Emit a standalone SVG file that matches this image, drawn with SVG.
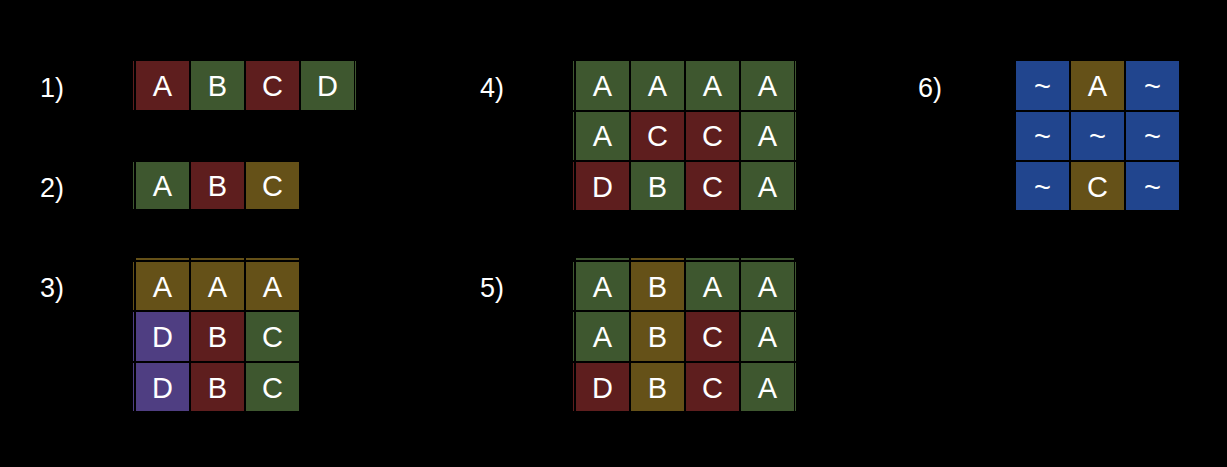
<svg xmlns="http://www.w3.org/2000/svg" width="1227" height="467" viewBox="0 0 1227 467">
<style>
.r{fill:#5e1e1e}.g{fill:#3e572f}.y{fill:#655118}.p{fill:#4f3e82}.b{fill:#21458e}
.t{font-family:"Liberation Sans",Arial,sans-serif;font-size:29px;fill:#ffffff;text-anchor:middle}
.l{font-family:"Liberation Sans",Arial,sans-serif;font-size:27px;fill:#ffffff}
</style>
<rect width="1227" height="467" fill="#000"/>
<g id="labels">
<text class="l" x="40" y="97">1)</text>
<text class="l" x="40" y="197">2)</text>
<text class="l" x="40" y="297">3)</text>
<text class="l" x="480" y="97">4)</text>
<text class="l" x="480" y="297">5)</text>
<text class="l" x="918" y="97">6)</text>
</g>
<g id="grid1">
<rect class="r" x="133" y="61" width="1" height="49"/>
<rect class="g" x="355" y="61" width="1" height="49"/>
<rect class="r" x="136" y="61" width="53" height="49"/><text class="t" x="162.5" y="96">A</text>
<rect class="g" x="191" y="61" width="53" height="49"/><text class="t" x="217.5" y="96">B</text>
<rect class="r" x="246" y="61" width="53" height="49"/><text class="t" x="272.5" y="96">C</text>
<rect class="g" x="301" y="61" width="53" height="49"/><text class="t" x="327.5" y="96">D</text>
</g>
<g id="grid2">
<rect class="g" x="133" y="162" width="1" height="47"/>
<rect class="g" x="136" y="162" width="53" height="47"/><text class="t" x="162.5" y="196">A</text>
<rect class="r" x="191" y="162" width="53" height="47"/><text class="t" x="217.5" y="196">B</text>
<rect class="y" x="246" y="162" width="53" height="47"/><text class="t" x="272.5" y="196">C</text>
</g>
<g id="grid3">
<rect class="y" x="136" y="258" width="53" height="2"/>
<rect class="y" x="191" y="258" width="53" height="2"/>
<rect class="y" x="246" y="258" width="53" height="2"/>
<rect class="y" x="133" y="262" width="1" height="48"/>
<rect class="p" x="133" y="312" width="1" height="49"/>
<rect class="p" x="133" y="363" width="1" height="48"/>
<rect class="y" x="136" y="262" width="53" height="48"/><text class="t" x="162.5" y="297">A</text>
<rect class="y" x="191" y="262" width="53" height="48"/><text class="t" x="217.5" y="297">A</text>
<rect class="y" x="246" y="262" width="53" height="48"/><text class="t" x="272.5" y="297">A</text>
<rect class="p" x="136" y="312" width="53" height="49"/><text class="t" x="162.5" y="347">D</text>
<rect class="r" x="191" y="312" width="53" height="49"/><text class="t" x="217.5" y="347">B</text>
<rect class="g" x="246" y="312" width="53" height="49"/><text class="t" x="272.5" y="347">C</text>
<rect class="p" x="136" y="363" width="53" height="48"/><text class="t" x="162.5" y="398">D</text>
<rect class="r" x="191" y="363" width="53" height="48"/><text class="t" x="217.5" y="398">B</text>
<rect class="g" x="246" y="363" width="53" height="48"/><text class="t" x="272.5" y="398">C</text>
</g>
<g id="grid4">
<rect class="g" x="573" y="61" width="1" height="49"/>
<rect class="g" x="573" y="112" width="1" height="48"/>
<rect class="r" x="573" y="162" width="1" height="48"/>
<rect class="g" x="795" y="61" width="1" height="49"/>
<rect class="g" x="795" y="112" width="1" height="48"/>
<rect class="g" x="795" y="162" width="1" height="48"/>
<rect class="g" x="576" y="61" width="53" height="49"/><text class="t" x="602.5" y="96">A</text>
<rect class="g" x="631" y="61" width="53" height="49"/><text class="t" x="657.5" y="96">A</text>
<rect class="g" x="686" y="61" width="53" height="49"/><text class="t" x="712.5" y="96">A</text>
<rect class="g" x="741" y="61" width="53" height="49"/><text class="t" x="767.5" y="96">A</text>
<rect class="g" x="576" y="112" width="53" height="48"/><text class="t" x="602.5" y="146">A</text>
<rect class="r" x="631" y="112" width="53" height="48"/><text class="t" x="657.5" y="146">C</text>
<rect class="r" x="686" y="112" width="53" height="48"/><text class="t" x="712.5" y="146">C</text>
<rect class="g" x="741" y="112" width="53" height="48"/><text class="t" x="767.5" y="146">A</text>
<rect class="r" x="576" y="162" width="53" height="48"/><text class="t" x="602.5" y="197">D</text>
<rect class="g" x="631" y="162" width="53" height="48"/><text class="t" x="657.5" y="197">B</text>
<rect class="r" x="686" y="162" width="53" height="48"/><text class="t" x="712.5" y="197">C</text>
<rect class="g" x="741" y="162" width="53" height="48"/><text class="t" x="767.5" y="197">A</text>
</g>
<g id="grid5">
<rect class="g" x="576" y="258" width="53" height="2"/>
<rect class="y" x="631" y="258" width="53" height="2"/>
<rect class="g" x="686" y="258" width="53" height="2"/>
<rect class="g" x="741" y="258" width="53" height="2"/>
<rect class="g" x="573" y="262" width="1" height="48"/>
<rect class="g" x="573" y="312" width="1" height="49"/>
<rect class="r" x="573" y="363" width="1" height="48"/>
<rect class="g" x="795" y="262" width="1" height="48"/>
<rect class="g" x="795" y="312" width="1" height="49"/>
<rect class="g" x="795" y="363" width="1" height="48"/>
<rect class="g" x="576" y="262" width="53" height="48"/><text class="t" x="602.5" y="297">A</text>
<rect class="y" x="631" y="262" width="53" height="48"/><text class="t" x="657.5" y="297">B</text>
<rect class="g" x="686" y="262" width="53" height="48"/><text class="t" x="712.5" y="297">A</text>
<rect class="g" x="741" y="262" width="53" height="48"/><text class="t" x="767.5" y="297">A</text>
<rect class="g" x="576" y="312" width="53" height="49"/><text class="t" x="602.5" y="347">A</text>
<rect class="y" x="631" y="312" width="53" height="49"/><text class="t" x="657.5" y="347">B</text>
<rect class="r" x="686" y="312" width="53" height="49"/><text class="t" x="712.5" y="347">C</text>
<rect class="g" x="741" y="312" width="53" height="49"/><text class="t" x="767.5" y="347">A</text>
<rect class="r" x="576" y="363" width="53" height="48"/><text class="t" x="602.5" y="398">D</text>
<rect class="y" x="631" y="363" width="53" height="48"/><text class="t" x="657.5" y="398">B</text>
<rect class="r" x="686" y="363" width="53" height="48"/><text class="t" x="712.5" y="398">C</text>
<rect class="g" x="741" y="363" width="53" height="48"/><text class="t" x="767.5" y="398">A</text>
</g>
<g id="grid6">
<rect class="b" x="1016" y="61" width="53" height="49"/><text class="t" x="1042.5" y="96">~</text>
<rect class="y" x="1071" y="61" width="53" height="49"/><text class="t" x="1097.5" y="96">A</text>
<rect class="b" x="1126" y="61" width="53" height="49"/><text class="t" x="1152.5" y="96">~</text>
<rect class="b" x="1016" y="112" width="53" height="48"/><text class="t" x="1042.5" y="146">~</text>
<rect class="b" x="1071" y="112" width="53" height="48"/><text class="t" x="1097.5" y="146">~</text>
<rect class="b" x="1126" y="112" width="53" height="48"/><text class="t" x="1152.5" y="146">~</text>
<rect class="b" x="1016" y="162" width="53" height="48"/><text class="t" x="1042.5" y="197">~</text>
<rect class="y" x="1071" y="162" width="53" height="48"/><text class="t" x="1097.5" y="197">C</text>
<rect class="b" x="1126" y="162" width="53" height="48"/><text class="t" x="1152.5" y="197">~</text>
</g>
</svg>
